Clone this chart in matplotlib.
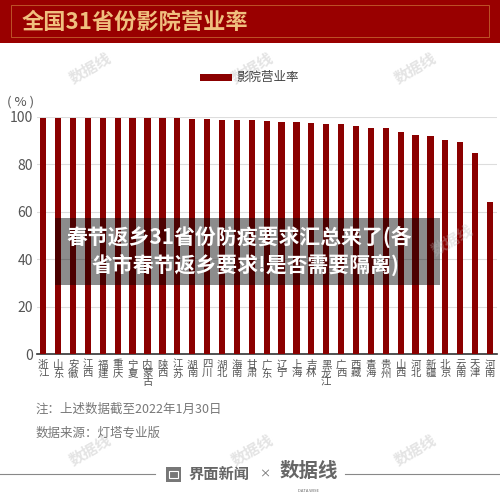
import matplotlib
matplotlib.use('Agg')
import matplotlib.pyplot as plt
from matplotlib.patches import Rectangle

plt.rcParams['font.family'] = ['Noto Sans CJK SC', 'DejaVu Sans']

provinces = ['浙江', '山东', '安徽', '江西', '福建', '重庆', '宁夏', '内蒙古', '陕西', '江苏',
             '湖南', '四川', '湖北', '海南', '甘肃', '广东', '辽宁', '上海', '吉林', '黑龙江',
             '广西', '西藏', '青海', '贵州', '山西', '河北', '新疆', '北京', '云南', '天津', '河南']
rates = [99.7, 99.7, 99.7, 99.7, 99.7, 99.7, 99.7, 99.7, 99.7, 99.4,
         99.3, 99.0, 98.7, 98.6, 98.6, 98.5, 97.9, 97.7, 97.3, 97.2,
         97.0, 96.2, 95.5, 95.3, 93.6, 92.2, 91.9, 90.2, 89.5, 85.0, 64.0]
yticks = [0, 20, 40, 60, 80, 100]
series_name = '影院营业率'
title = '全国31省份影院营业率'
banner = ['春节返乡31省份防疫要求汇总来了(各', '省市春节返乡要求!是否需要隔离)']
note = '注：上述数据截至2022年1月30日'
source = '数据来源：灯塔专业版'

W, H = 500, 504
fig = plt.figure(figsize=(W / 100, H / 100), dpi=100)
fig.patch.set_facecolor('white')


def fx(x):
    return x / W


def fy(y):
    return 1 - y / H


BAR = '#8b0000'

# watermarks
for wx in (90, 252, 415):
    for wy in (68, 450):
        fig.text(fx(wx), fy(wy), '数据线', fontsize=11, color='#e4e4e4', rotation=30,
                 ha='center', va='center', fontweight='bold', zorder=0)
fig.text(fx(452), fy(240), '数据线', fontsize=11, color='#bbbbbb', alpha=0.35, rotation=30,
         ha='center', va='center', fontweight='bold', zorder=12)

# title bar
fig.patches.append(Rectangle((0, fy(43)), 1, 43 / H, transform=fig.transFigure,
                             facecolor='#990000', edgecolor='none', zorder=1))
fig.patches.append(Rectangle((fx(11), fy(37)), fx(478), 32 / H, transform=fig.transFigure,
                             facecolor='none', edgecolor='#c4602e', lw=0.6, zorder=2))
fig.text(fx(22), fy(22), title, fontsize=16, fontweight='bold', color='#f0bf7e',
         ha='left', va='center', zorder=3)

# main axes
ax = fig.add_axes([fx(37), fy(354), 460 / W, 237 / H])
x = list(range(len(provinces)))
ax.bar(x, rates, width=0.42, color=BAR, zorder=3)
ax.set_ylim(0, 100)
ax.set_xlim(-0.42, len(provinces) - 0.53)
ax.set_yticks(yticks)
ax.set_yticklabels([str(v) for v in yticks], fontsize=10, color='#555555')
ax.set_xticks(x)
ax.set_xticklabels(['\n'.join(p) for p in provinces], fontsize=7.5, color='#555555',
                   linespacing=0.85, va='top')
ax.tick_params(axis='both', length=0)
ax.tick_params(axis='y', pad=3)
ax.tick_params(axis='x', pad=4)
ax.yaxis.grid(True, color='#dddddd', lw=0.8, zorder=0)
ax.set_axisbelow(True)
for s in ('top', 'right', 'left'):
    ax.spines[s].set_visible(False)
ax.spines['bottom'].set_color('#333333')
ax.spines['bottom'].set_linewidth(1.2)
ax.patch.set_alpha(0)

# unit label
fig.text(fx(21), fy(102), '( % )', fontsize=9.5, color='#555555', ha='center', va='center')

# legend
fig.patches.append(Rectangle((fx(200), fy(81)), 32 / W, 7 / H, transform=fig.transFigure,
                             facecolor=BAR, edgecolor='none'))
fig.text(fx(236), fy(77.5), series_name, fontsize=9, color='#444444', ha='left', va='center')

# banner overlay
fig.patches.append(Rectangle((fx(55), fy(285)), 385 / W, 67 / H, transform=fig.transFigure,
                             facecolor='black', alpha=0.45, edgecolor='none', zorder=10))
fig.text(fx(239), fy(237), banner[0], fontsize=15, fontweight='bold', color='white',
         ha='center', va='center', zorder=11)
fig.text(fx(246), fy(265), banner[1], fontsize=15, fontweight='bold', color='white',
         ha='center', va='center', zorder=11)

# notes
fig.text(fx(36), fy(409), note, fontsize=9, color='#777777', ha='left', va='center')
fig.text(fx(36), fy(433), source, fontsize=9, color='#777777', ha='left', va='center')

# footer
fig.add_artist(plt.Line2D([0, fx(155)], [fy(474), fy(474)], transform=fig.transFigure,
                          color='#888888', lw=0.8))
fig.add_artist(plt.Line2D([fx(345), 1], [fy(474), fy(474)], transform=fig.transFigure,
                          color='#888888', lw=0.8))
fig.patches.append(Rectangle((fx(166), fy(482)), 15 / W, 15 / H, transform=fig.transFigure,
                             facecolor='#777777', edgecolor='none'))
fig.patches.append(Rectangle((fx(169), fy(478)), 9 / W, 7 / H, transform=fig.transFigure,
                             facecolor='none', edgecolor='white', lw=0.8))
fig.text(fx(189), fy(474), '界面新闻', fontsize=11, fontweight='bold', color='#666666',
         ha='left', va='center')
fig.text(fx(265), fy(474), '×', fontsize=8, color='#666666', ha='center', va='center')
fig.text(fx(309), fy(471), '数据线', fontsize=14, fontweight='bold', color='#666666',
         ha='center', va='center')
fig.text(fx(309), fy(491), 'DATA WISE', fontsize=3, color='#666666', ha='center', va='center')

fig.savefig('out.png', dpi=100, facecolor='white')
